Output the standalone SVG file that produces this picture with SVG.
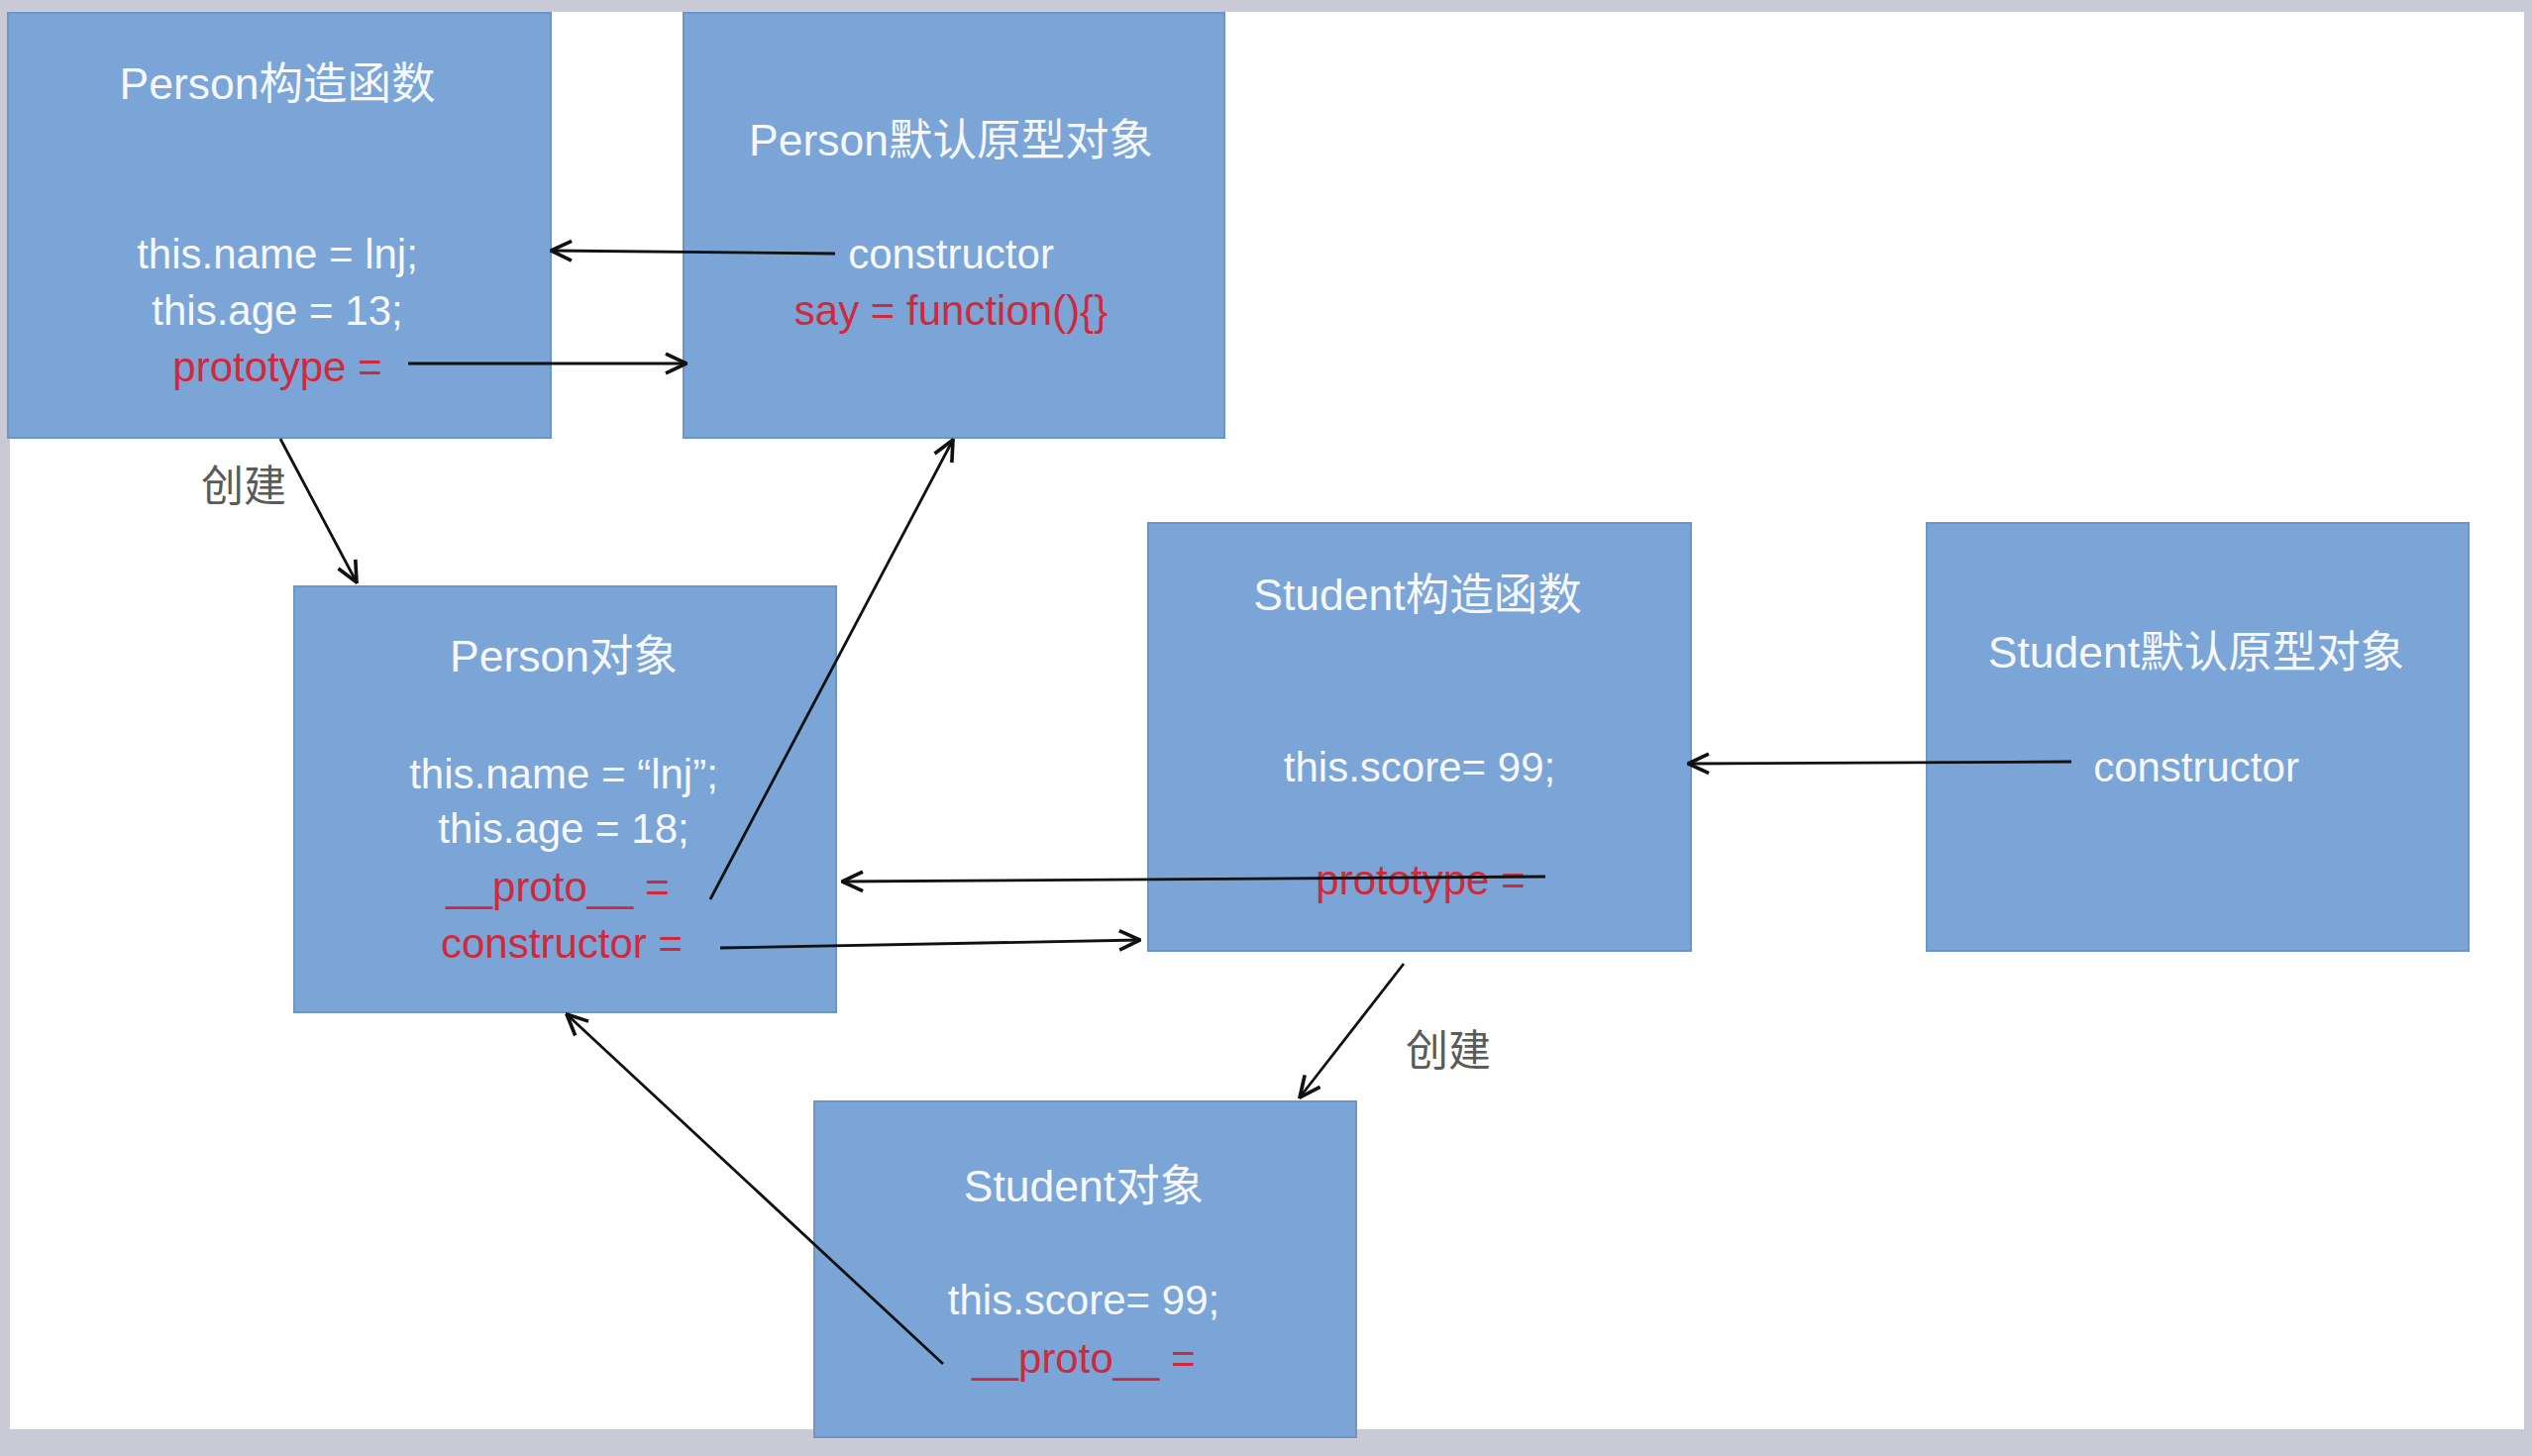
<svg xmlns="http://www.w3.org/2000/svg" width="2556" height="1470" viewBox="0 0 2556 1470">
  <defs>
    <marker id="arr" markerUnits="userSpaceOnUse" markerWidth="28" markerHeight="28" viewBox="0 0 20 20" refX="19" refY="10" orient="auto">
      <path d="M4,3 L19,10 L4,17" fill="none" stroke="#111" stroke-width="2.6" stroke-linejoin="miter"/>
    </marker>
  </defs>
  <style>
    .box { fill: #7aa5d6; stroke: #6c96c8; stroke-width: 2; }
    .t { font-family: "Liberation Sans", "Noto Sans CJK SC", sans-serif; font-size: 42px; fill: #f5f7fb; text-anchor: middle; }
    .cn { font-family: "Liberation Sans", "Noto Sans CJK SC", sans-serif; font-size: 44.5px; fill: #f5f7fb; text-anchor: middle; }
    .r { fill: #cf2a3c; }
    .lbl { font-family: "Noto Sans CJK SC", sans-serif; font-size: 43px; fill: #5a5a5a; text-anchor: middle; }
    .c { fill: none; stroke: #111; stroke-width: 2.8; marker-end: url(#arr); }
  </style>
  <rect x="0" y="0" width="2556" height="1470" fill="#c9cad6"/>
  <rect x="10" y="12" width="2538" height="1431" fill="#ffffff"/>

  <g id="person-ctor">
    <rect class="box" x="8" y="13" width="548" height="429"/>
    <text class="cn" x="280" y="100">Person构造函数</text>
    <text class="t" x="280" y="271">this.name = lnj;</text>
    <text class="t" x="280" y="328">this.age = 13;</text>
    <text class="t r" x="280" y="385">prototype =</text>
  </g>

  <g id="person-proto">
    <rect class="box" x="690" y="13" width="546" height="429"/>
    <text class="cn" x="960" y="157">Person默认原型对象</text>
    <text class="t" x="960" y="271">constructor</text>
    <text class="t r" x="960" y="328">say = function(){}</text>
  </g>

  <g id="person-obj">
    <rect class="box" x="297" y="592" width="547" height="430"/>
    <text class="cn" x="569" y="678">Person对象</text>
    <text class="t" x="569" y="796">this.name = “lnj”;</text>
    <text class="t" x="569" y="851">this.age = 18;</text>
    <text class="t r" x="563" y="910">__proto__ =</text>
    <text class="t r" x="567" y="967">constructor =</text>
  </g>

  <g id="student-ctor">
    <rect class="box" x="1159" y="528" width="548" height="432"/>
    <text class="cn" x="1431" y="616">Student构造函数</text>
    <text class="t" x="1433" y="789">this.score= 99;</text>
    <text class="t r" x="1434" y="903">prototype =</text>
  </g>

  <g id="student-proto">
    <rect class="box" x="1945" y="528" width="547" height="432"/>
    <text class="cn" x="2217" y="674">Student默认原型对象</text>
    <text class="t" x="2217" y="789">constructor</text>
  </g>

  <g id="student-obj">
    <rect class="box" x="822" y="1112" width="547" height="339"/>
    <text class="cn" x="1094" y="1213">Student对象</text>
    <text class="t" x="1094" y="1327">this.score= 99;</text>
    <text class="t r" x="1094" y="1386">__proto__ =</text>
  </g>

  <g id="connectors">
    <line class="c" x1="843" y1="256" x2="556" y2="253"/>
    <line class="c" x1="412" y1="367" x2="693" y2="367"/>
    <line class="c" x1="283" y1="443" x2="360" y2="588"/>
    <line class="c" x1="717" y1="908" x2="962" y2="444"/>
    <line class="c" x1="1560" y1="885" x2="850" y2="890"/>
    <line class="c" x1="727" y1="957" x2="1151" y2="949"/>
    <line class="c" x1="2091" y1="769" x2="1704" y2="771"/>
    <line class="c" x1="1417" y1="973" x2="1312" y2="1108"/>
    <line class="c" x1="952" y1="1377" x2="572" y2="1024"/>
    <text class="lbl" x="246" y="506">创建</text>
    <text class="lbl" x="1462" y="1076">创建</text>
  </g>
</svg>
